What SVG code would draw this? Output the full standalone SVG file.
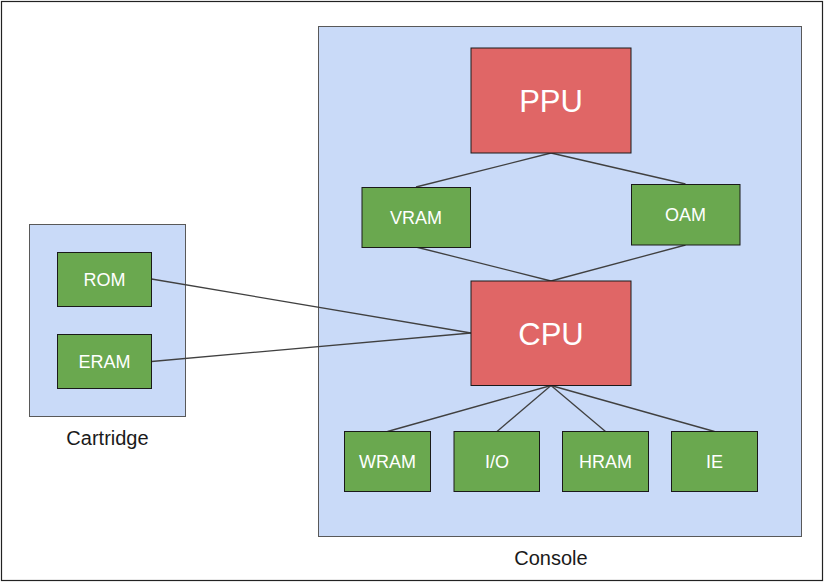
<svg xmlns="http://www.w3.org/2000/svg" width="824" height="582" viewBox="0 0 824 582">
<style>
.frame{fill:#fff;stroke:#222;stroke-width:1.2}
.cont{fill:#c9daf8;stroke:#595959;stroke-width:1}
.mem{fill:#6aa84f;stroke:#1a1a1a;stroke-width:1}
.proc{fill:#e06666;stroke:#1a1a1a;stroke-width:1}
.lbl{font-family:"Liberation Sans",Arial,sans-serif;fill:#fff;text-anchor:middle;font-size:18px}
.big{font-family:"Liberation Sans",Arial,sans-serif;fill:#fff;text-anchor:middle;font-size:31px}
.cap{font-family:"Liberation Sans",Arial,sans-serif;fill:#1a1a1a;text-anchor:middle;font-size:20px}
.conn line{stroke:#404040;stroke-width:1.3}
</style>
<rect class="frame" x="1.5" y="1.5" width="821" height="579"/>
<g id="cartridge">
<rect class="cont" x="29.5" y="224.5" width="156" height="192"/>
<text class="cap" x="107.5" y="445">Cartridge</text>
</g>
<g id="console">
<rect class="cont" x="318.5" y="26.5" width="483" height="510"/>
<text class="cap" x="551" y="565">Console</text>
</g>
<g class="conn" id="connectors">
<line x1="151.5" y1="279" x2="471" y2="333"/>
<line x1="151.5" y1="361.5" x2="471" y2="333"/>
<line x1="551" y1="153" x2="416" y2="187"/>
<line x1="551" y1="153" x2="685.5" y2="184"/>
<line x1="416" y1="247" x2="551" y2="281"/>
<line x1="685.5" y1="245" x2="551" y2="281"/>
<line x1="551" y1="385.5" x2="387.5" y2="431.5"/>
<line x1="551" y1="385.5" x2="497" y2="431.5"/>
<line x1="551" y1="385.5" x2="605.5" y2="431.5"/>
<line x1="551" y1="385.5" x2="714.5" y2="431.5"/>
</g>
<g id="rom"><rect class="mem" x="57.5" y="252.5" width="94" height="54"/><text class="lbl" x="104.5" y="286">ROM</text></g>
<g id="eram"><rect class="mem" x="57.5" y="334.5" width="94" height="54"/><text class="lbl" x="104.5" y="368">ERAM</text></g>
<g id="ppu"><rect class="proc" x="471" y="48" width="160" height="105"/><text class="big" x="551" y="111.5">PPU</text></g>
<g id="vram"><rect class="mem" x="362" y="187.5" width="108.5" height="60"/><text class="lbl" x="416" y="224">VRAM</text></g>
<g id="oam"><rect class="mem" x="631.5" y="184.5" width="108.5" height="60.5"/><text class="lbl" x="685.5" y="221">OAM</text></g>
<g id="cpu"><rect class="proc" x="471" y="281" width="160" height="104.5"/><text class="big" x="551" y="344.5">CPU</text></g>
<g id="wram"><rect class="mem" x="344.5" y="431.5" width="86" height="60"/><text class="lbl" x="387.5" y="468">WRAM</text></g>
<g id="io"><rect class="mem" x="454" y="431.5" width="85.5" height="60"/><text class="lbl" x="497" y="468">I/O</text></g>
<g id="hram"><rect class="mem" x="562.5" y="431.5" width="86" height="60"/><text class="lbl" x="605.5" y="468">HRAM</text></g>
<g id="ie"><rect class="mem" x="671.5" y="431.5" width="86" height="60"/><text class="lbl" x="714.5" y="468">IE</text></g>
</svg>
